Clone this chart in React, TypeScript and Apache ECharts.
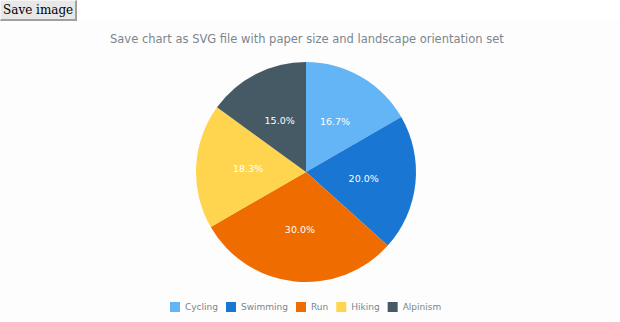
import React, { useEffect, useRef } from "react";
import * as echarts from "echarts";

const categories = ["Cycling", "Swimming", "Run", "Hiking", "Alpinism"];
const values = [10, 12, 18, 11, 9];
const colors = ["#64b5f6", "#1976d2", "#ef6c00", "#ffd54f", "#455a64"];
const titleText = "Save chart as SVG file with paper size and landscape orientation set";

export default function App() {
  const ref = useRef<HTMLDivElement>(null);
  useEffect(() => {
    document.body.style.margin = "0";
    const chart = echarts.init(ref.current!, undefined, { renderer: "svg" });
    chart.setOption({
      animation: false,
      backgroundColor: "#fdfdfd",
      title: {
        text: titleText,
        left: 105,
        top: 7,
        textStyle: { color: "#7c868e", fontSize: 11.5, fontWeight: "normal", fontFamily: "DejaVu Sans" },
      },
      legend: {
        bottom: 5,
        left: 165,
        itemWidth: 10,
        itemHeight: 10,
        itemGap: 8,
        icon: "rect",
        textStyle: { color: "#7c868e", fontSize: 9, fontFamily: "DejaVu Sans" },
        data: categories,
      },
      series: [
        {
          type: "pie",
          center: [306, 151],
          radius: [0, 110],
          startAngle: 90,
          clockwise: true,
          label: {
            show: true,
            position: "inside",
            color: "#fff",
            fontSize: 9.5,
            fontFamily: "DejaVu Sans",
            formatter: (p: any) => p.percent.toFixed(1) + "%",
          },
          labelLine: { show: false },
          itemStyle: { borderWidth: 0 },
          emphasis: { disabled: true },
          data: categories.map((c, i) => ({ name: c, value: values[i], itemStyle: { color: colors[i] } })),
        },
      ],
    });
    return () => chart.dispose();
  }, []);
  return (
    <div>
      <button
        style={{
          display: "block",
          height: 21,
          padding: "0 2px",
          margin: 0,
          whiteSpace: "nowrap",
          fontFamily: "DejaVu Serif",
          fontSize: 12,
          background: "#e8e8e8",
          borderStyle: "solid",
          borderWidth: "1px 2px 2px 1px",
          borderColor: "#f4f4f4 #a0a0a0 #a0a0a0 #f4f4f4",
          color: "#000",
        }}
      >
        Save image
      </button>
      <div ref={ref} style={{ width: 620, height: 301 }} />
    </div>
  );
}
